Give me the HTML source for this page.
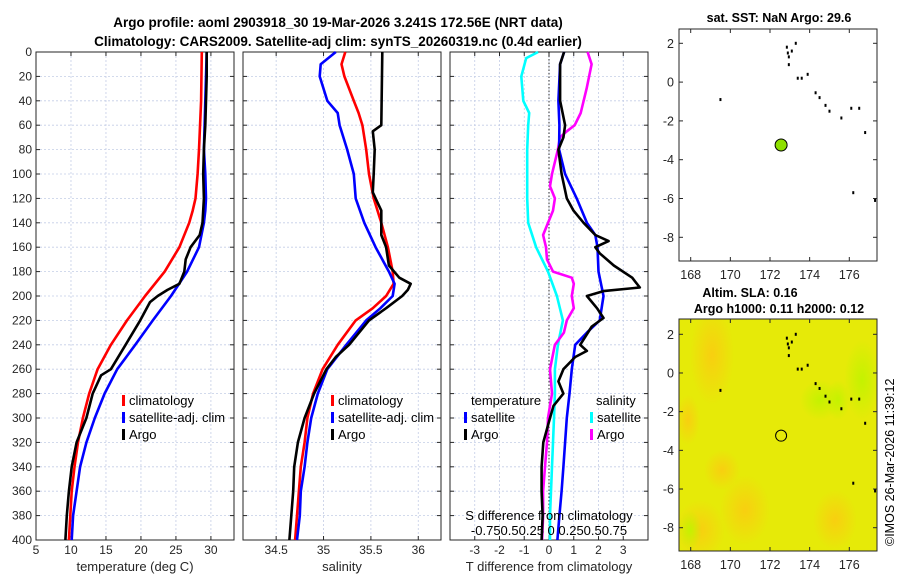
<!DOCTYPE html>
<html><head><meta charset="utf-8">
<style>
html,body{margin:0;padding:0;background:#fff;}
svg{display:block;font-family:"Liberation Sans","DejaVu Sans",sans-serif;}
</style></head>
<body>
<svg id="chart" width="900" height="580" viewBox="0 0 900 580" xmlns="http://www.w3.org/2000/svg">
<defs>
<radialGradient id="o1" cx="0.5" cy="0.5" r="0.5"><stop offset="0" stop-color="#f8cf10"/><stop offset="1" stop-color="#f8cf10" stop-opacity="0"/></radialGradient>
<radialGradient id="g1" cx="0.5" cy="0.5" r="0.5"><stop offset="0" stop-color="#c4f200"/><stop offset="1" stop-color="#c4f200" stop-opacity="0"/></radialGradient>
<clipPath id="mapclip2"><rect x="679" y="319" width="198" height="232"/></clipPath>
</defs>
<text x="338" y="27" font-size="13.5" font-weight="bold" text-anchor="middle" fill="#000">Argo profile: aoml 2903918_30 19-Mar-2026 3.241S 172.56E (NRT data)</text>
<text x="338" y="46" font-size="13.5" font-weight="bold" text-anchor="middle" fill="#000">Climatology: CARS2009. Satellite-adj clim: synTS_20260319.nc (0.4d earlier)</text>
<g id="panels"></g>
<text transform="translate(894,546) rotate(-90)" font-size="12.5" fill="#000">©IMOS 26-Mar-2026 11:39:12</text>
</svg>
<script>
// ---------- data ----------
const depthsT = [0,40,80,100,120,130,140,160,180,200,220,240,260,280,300,320,340,360,380,400];
const tempClim = [28.7,28.6,28.3,28.1,27.8,27.4,26.9,25.5,23.4,20.6,18.0,15.7,13.8,12.6,11.7,11.0,10.5,10.1,9.9,9.7];
const tempSat  = [29.4,29.2,29.0,29.2,29.3,29.2,29.0,28.3,26.6,24.3,21.7,19.2,16.6,14.8,13.4,12.2,11.3,10.8,10.3,10.1];
const depthsTA = [0,20,60,80,100,120,140,150,160,170,180,190,195,200,205,220,240,260,265,280,300,320,340,360,380,400];
const tempArgo = [29.4,29.4,29.2,29.0,28.9,29.0,28.8,28.4,27.1,26.4,26.2,25.5,23.8,22.4,21.3,19.9,17.8,15.7,14.3,13.1,12.2,10.8,10.1,9.7,9.4,9.2];

const depthsS = [0,10,20,40,50,60,80,100,120,140,160,180,190,200,210,220,240,260,280,300,320,340,360,380,400];
const salClim = [35.23,35.19,35.22,35.32,35.37,35.41,35.45,35.48,35.53,35.61,35.68,35.73,35.74,35.66,35.52,35.34,35.15,34.99,34.89,34.83,34.80,34.76,34.74,34.72,34.70];
const salSat  = [35.13,34.97,34.96,35.04,35.15,35.17,35.25,35.32,35.34,35.43,35.55,35.69,35.75,35.73,35.60,35.45,35.24,35.04,34.94,34.87,34.83,34.80,34.76,34.75,34.72];
const depthsSA = [0,60,65,80,100,115,120,130,150,160,175,185,190,195,200,210,220,240,250,260,280,300,320,340,360,380,400];
const salArgo = [35.62,35.61,35.52,35.54,35.53,35.52,35.55,35.61,35.61,35.66,35.69,35.80,35.92,35.89,35.83,35.66,35.48,35.27,35.13,35.03,34.90,34.80,34.73,34.69,34.68,34.66,34.64];

const depthsDT = [0,10,40,60,80,100,120,140,150,160,180,200,220,230,240,260,280,300,320,340,360,380,400];
const dTSat = [0.61,0.45,0.38,0.42,0.41,0.65,1.12,1.53,1.87,1.96,2.0,2.2,2.05,1.53,1.06,0.92,0.83,0.72,0.65,0.58,0.51,0.42,0.34];
const depthsDTA = [0,10,40,60,70,80,100,120,130,140,150,155,160,165,175,185,193,196,200,210,218,225,240,245,250,260,270,280,290,300,320,340,360,380,400];
const dTArgo = [0.61,0.45,0.45,0.65,0.58,0.38,0.51,0.72,0.99,1.40,1.87,2.41,1.87,2.05,2.62,3.36,3.67,2.2,1.53,1.94,2.2,1.73,1.26,1.53,1.06,0.58,0.38,0.58,0.18,0.04,-0.23,-0.30,-0.30,-0.26,-0.30];
const depthsDS = [0,5,20,40,50,60,80,100,120,140,160,180,200,220,240,260,280,300,320,340,360,380,400];
const dSSat = [-0.11,-0.23,-0.28,-0.26,-0.20,-0.21,-0.22,-0.22,-0.22,-0.21,-0.13,-0.01,0.08,0.14,0.09,0.06,0.06,0.05,0.04,0.03,0.02,0.01,0.01];
const depthsDSA = [0,10,30,50,60,65,70,80,100,110,120,130,150,160,170,180,185,190,200,210,220,230,240,260,280,300,320,340,360,380,400];
const dSArgo = [0.39,0.43,0.38,0.32,0.26,0.18,0.11,0.09,0.03,0.01,0.06,0.04,-0.06,-0.03,-0.02,0.04,0.23,0.25,0.23,0.25,0.18,0.15,0.06,0.01,0.03,-0.01,-0.02,-0.04,-0.06,-0.06,-0.07];

const depthTicks = [0,20,40,60,80,100,120,140,160,180,200,220,240,260,280,300,320,340,360,380,400];
const tempTicks = [5,10,15,20,25,30];
const salTicks = [34.5,35,35.5,36];
const dTTicks = [-3,-2,-1,0,1,2,3];
const lonTicks = [168,170,172,174,176];
const latTicks = [2,0,-2,-4,-6,-8];
const floatLon = 172.56, floatLat = -3.241;
const islandLon = [172.85,172.9,172.95,173.1,173.3,172.95,173.4,173.6,173.9,174.3,174.5,174.8,175.0,175.6,176.1,176.5,176.8,176.2,177.3,169.5];
const islandLat = [1.8,1.5,1.3,1.6,2.0,0.9,0.2,0.2,0.4,-0.55,-0.8,-1.2,-1.5,-1.85,-1.35,-1.35,-2.6,-5.7,-6.1,-0.9];

// ---------- helpers ----------
const NS='http://www.w3.org/2000/svg';
const root=document.getElementById('panels');
function mk(tag, attrs, parent){const e=document.createElementNS(NS,tag);for(const k in attrs)e.setAttribute(k,attrs[k]);(parent||root).appendChild(e);return e;}
const PT=52, PB=540;
const yD = d => PT + d*(PB-PT)/400;
function lin(d0,d1,r0,r1){return v=>r0+(v-d0)*(r1-r0)/(d1-d0);}

function panel(name,x0,x1,xs,xticks,xfmt,xgrid,xlabel,showY){
  const g=mk('g',{});
  
  
  xgrid.forEach(v=>{const l=mk('line',{x1:xs(v),x2:xs(v),y1:PT,y2:PB,stroke:'#c4cde6','stroke-width':0.8,'stroke-dasharray':'2,2'},g);
    });
  depthTicks.forEach(d=>{const l=mk('line',{x1:x0,x2:x1,y1:yD(d),y2:yD(d),stroke:'#c4cde6','stroke-width':0.8,'stroke-dasharray':'2,2'},g);
    
    mk('line',{x1:x0,x2:x0+4,y1:yD(d),y2:yD(d),stroke:'#262626'},g);
    mk('line',{x1:x1,x2:x1-4,y1:yD(d),y2:yD(d),stroke:'#262626'},g);
    if(showY){const t=mk('text',{x:x0-4,y:yD(d)+4,'font-size':12,'text-anchor':'end',fill:'#262626'},g);t.textContent=d;
      }
  });
  xticks.forEach(v=>{mk('line',{x1:xs(v),x2:xs(v),y1:PB,y2:PB-4,stroke:'#262626'},g);
    mk('line',{x1:xs(v),x2:xs(v),y1:PT,y2:PT+4,stroke:'#262626'},g);
    const t=mk('text',{x:xs(v),y:PB+14,'font-size':12,'text-anchor':'middle',fill:'#262626'},g);t.textContent=xfmt(v);
    });
  const f=mk('rect',{x:x0,y:PT,width:x1-x0,height:PB-PT,fill:'none',stroke:'#262626','stroke-width':1},g);
  
  const xl=mk('text',{x:(x0+x1)/2,y:571,'font-size':13,'text-anchor':'middle',fill:'#262626'},g);xl.textContent=xlabel;
  
  return g;
}
function series(g,name,depths,vals,xs,color,w){
  const pts=vals.map((v,i)=>xs(v).toFixed(1)+','+yD(depths[i]).toFixed(1)).join(' ');
  const p=mk('polyline',{points:pts,fill:'none',stroke:color,'stroke-width':w||2.6,'stroke-linejoin':'round'},g);
  
  
}
function legendEntry(g,name,x,y,color,label){
  const e=mk('g',{},g);
  
  
  mk('rect',{x:x,y:y-10,width:3,height:11,fill:color},e);
  const t=mk('text',{x:x+7,y:y,'font-size':13,fill:'#000'},e);t.textContent=label;
}

// ---------- temperature panel ----------
const xT=lin(5,33.3,36,234);
const g1=panel('temperature-panel',36,234,xT,tempTicks,v=>v,tempTicks,'temperature (deg C)',true);
series(g1,'temp-climatology-line',depthsT,tempClim,xT,'#ff0000');
series(g1,'temp-satellite-line',depthsT,tempSat,xT,'#0000ff');
series(g1,'temp-argo-line',depthsTA,tempArgo,xT,'#000000');
legendEntry(g1,'legend-climatology',122,405,'#ff0000','climatology');
legendEntry(g1,'legend-satellite-adj',122,422,'#0000ff','satellite-adj. clim');
legendEntry(g1,'legend-argo',122,439,'#000000','Argo');

// ---------- salinity panel ----------
const xS=lin(34.15,36.24,243,441);
const g2=panel('salinity-panel',243,441,xS,salTicks,v=>v,salTicks,'salinity',false);
series(g2,'sal-climatology-line',depthsS,salClim,xS,'#ff0000');
series(g2,'sal-satellite-line',depthsS,salSat,xS,'#0000ff');
series(g2,'sal-argo-line',depthsSA,salArgo,xS,'#000000');
legendEntry(g2,'legend-climatology-sal',331,405,'#ff0000','climatology');
legendEntry(g2,'legend-satellite-adj-sal',331,422,'#0000ff','satellite-adj. clim');
legendEntry(g2,'legend-argo-sal',331,439,'#000000','Argo');

// ---------- difference panel ----------
const xDT=lin(-4,4,450,648);
const xDS=v=>xDT(v*4);
const g3=panel('difference-panel',450,648,xDT,dTTicks,v=>v,dTTicks,'T difference from climatology',false);
mk('rect',{x:442,y:395,width:7,height:45,fill:'#fff'},g3);
mk('line',{x1:xDT(0),x2:xDT(0),y1:PT,y2:PB,stroke:'#000','stroke-width':0.8,'stroke-dasharray':'1.5,2'},g3);
series(g3,'dsal-satellite-line',depthsDS,dSSat,xDS,'#00ffff');
series(g3,'dsal-argo-line',depthsDSA,dSArgo,xDS,'#ff00ff');
series(g3,'dtemp-satellite-line',depthsDT,dTSat,xDT,'#0000ff');
series(g3,'dtemp-argo-line',depthsDTA,dTArgo,xDT,'#000000');
let t;
t=mk('text',{x:471,y:405,'font-size':13,fill:'#000'},g3);t.textContent='temperature';

t=mk('text',{x:596,y:405,'font-size':13,fill:'#000'},g3);t.textContent='salinity';

legendEntry(g3,'legend-dtemp-satellite',464,422,'#0000ff','satellite');
legendEntry(g3,'legend-dtemp-argo',464,439,'#000000','Argo');
legendEntry(g3,'legend-dsal-satellite',590,422,'#00ffff','satellite');
legendEntry(g3,'legend-dsal-argo',590,439,'#ff00ff','Argo');
t=mk('text',{x:549,y:520,'font-size':13,'text-anchor':'middle',fill:'#000'},g3);t.textContent='S difference from climatology';

t=mk('text',{x:549,y:535,'font-size':13,'text-anchor':'middle',fill:'#000'},g3);t.textContent='-0.750.50.25 0 0.250.50.75';


// ---------- maps ----------
function map(name,top,bot,lat2y,titles,bg){
  const g=mk('g',{});
  
  
  const x0=679,x1=877;
  const xL=lin(168,176,690.7,849.3);
  if(bg) bg(g);
  lonTicks.forEach(v=>{mk('line',{x1:xL(v),x2:xL(v),y1:bot,y2:bot-4,stroke:'#262626'},g);mk('line',{x1:xL(v),x2:xL(v),y1:top,y2:top+4,stroke:'#262626'},g);
    const tt=mk('text',{x:xL(v),y:bot+18,'font-size':12.5,'text-anchor':'middle',fill:'#262626'},g);tt.textContent=v;
    });
  latTicks.forEach(v=>{mk('line',{x1:x0,x2:x0+4,y1:lat2y(v),y2:lat2y(v),stroke:'#262626'},g);mk('line',{x1:x1,x2:x1-4,y1:lat2y(v),y2:lat2y(v),stroke:'#262626'},g);
    const tt=mk('text',{x:x0-5,y:lat2y(v)+4.5,'font-size':12.5,'text-anchor':'end',fill:'#262626'},g);tt.textContent=v;
    });
  islandLon.forEach((lo,i)=>{const r=mk('rect',{x:xL(lo)-1,y:lat2y(islandLat[i])-1.5,width:2,height:3,fill:'#000'},g);
    });
  const fr=mk('rect',{x:x0,y:top,width:x1-x0,height:bot-top,fill:'none',stroke:'#262626'},g);
  
  const c=mk('ellipse',{cx:xL(floatLon),cy:lat2y(floatLat),rx:bg?5.5:6,ry:bg?5.5:6,fill:bg?'none':'#8ee000',stroke:'#000','stroke-width':1},g);
  
  titles.forEach(tl=>{const tt=mk('text',{x:tl[1],y:tl[2],'font-size':12.5,'font-weight':'bold','text-anchor':'middle',fill:'#000'},g);tt.textContent=tl[0];
    });
}
map('sst-map',29,261,lin(2,-8,43.3,237.3),[['sat. SST: NaN Argo: 29.6',779,22]],null);
map('sla-map',319,551,lin(2,-8,334.3,527.7),[['Altim. SLA: 0.16',750,297],['Argo h1000: 0.11 h2000: 0.12',779,313]],g=>{
  const b=mk('g',{'clip-path':'url(#mapclip2)'},g);
  
  mk('rect',{x:679,y:319,width:198,height:232,fill:'#e6ea08'},b);
  [[712,355,22,50],[700,530,25,30],[745,510,25,35],[722,470,18,20],[835,520,22,30],[688,420,12,25]].forEach(a=>mk('ellipse',{cx:a[0],cy:a[1],rx:a[2],ry:a[3],fill:'url(#o1)'},b));
  [[862,380,18,40],[820,400,20,20],[838,400,12,20],[690,530,12,20]].forEach(a=>mk('ellipse',{cx:a[0],cy:a[1],rx:a[2],ry:a[3],fill:'url(#g1)'},b));
});
</script>
</body></html>
